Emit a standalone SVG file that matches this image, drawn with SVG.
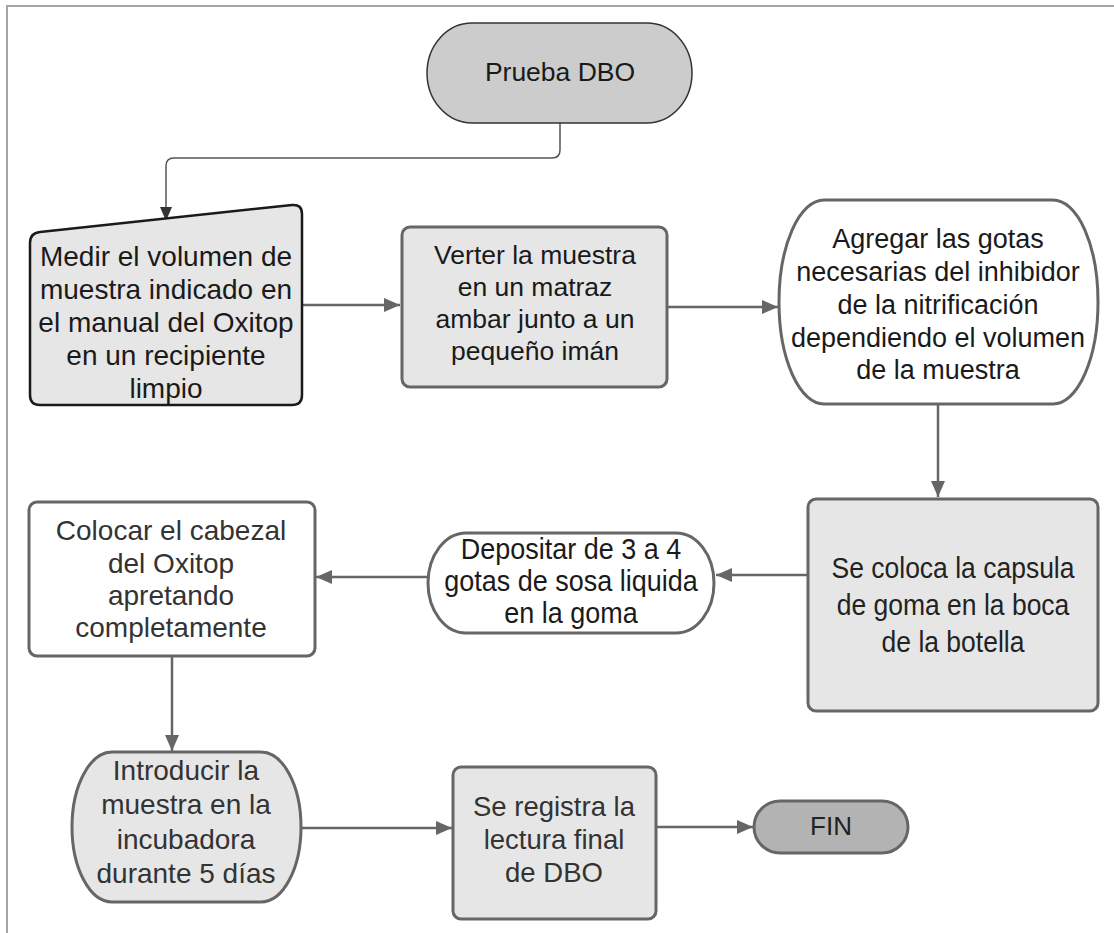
<svg xmlns="http://www.w3.org/2000/svg" width="1114" height="933" viewBox="0 0 1114 933">
<style>
text{font-family:"Liberation Sans",Arial,sans-serif;text-anchor:middle;fill:#1a1a1a}
.g{fill:#e6e6e6;stroke:#666;stroke-width:3}
.w{fill:#fff;stroke:#666;stroke-width:3}
.c{fill:none;stroke:#666;stroke-width:2.5}
</style>
<defs>
<marker id="ah" markerUnits="userSpaceOnUse" markerWidth="16" markerHeight="14" refX="16" refY="7" orient="auto"><path d="M0,0 L16,7 L0,14 z" fill="#666"/></marker>
<marker id="ah2" markerUnits="userSpaceOnUse" markerWidth="14" markerHeight="12" refX="14" refY="6" orient="auto"><path d="M0,0 L14,6 L0,12 z" fill="#333"/></marker>
</defs>
<rect width="1114" height="933" fill="#fff"/>
<path d="M7,933 L7,6 L1114,6" fill="none" stroke="#a6a6a6" stroke-width="2"/>
<g id="connectors">
<path d="M560,123 L560,150 Q560,158 552,158 L174,158 Q166,158 166,166 L166,221" fill="none" stroke="#555" stroke-width="1.5" marker-end="url(#ah2)"/>
<path class="c" d="M302,305 L400,305" marker-end="url(#ah)"/>
<path class="c" d="M667,307 L778,307" marker-end="url(#ah)"/>
<path class="c" d="M938,404 L938,497" marker-end="url(#ah)"/>
<path class="c" d="M808,575 L716,575" marker-end="url(#ah)"/>
<path class="c" d="M428,577 L316,577" marker-end="url(#ah)"/>
<path class="c" d="M172,656 L172,751" marker-end="url(#ah)"/>
<path class="c" d="M301,828 L452,828" marker-end="url(#ah)"/>
<path class="c" d="M656,827 L753,827" marker-end="url(#ah)"/>
</g>
<g id="start">
<rect x="427" y="23" width="265" height="100" rx="45" ry="50" fill="#cccccc" stroke="#333" stroke-width="1.5"/>
<text x="560" y="81" style="font-size:26.5px">Prueba DBO</text>
</g>
<g id="n1">
<path d="M30,395 L30,243 Q30,233 40,232 L292,205 Q302,204 302,214 L302,395 Q302,405 292,405 L40,405 Q30,405 30,395 Z" fill="#e6e6e6" stroke="#1a1a1a" stroke-width="2.5"/>
<text style="font-size:28px"><tspan x="166" y="266">Medir el volumen de</tspan><tspan x="166" y="299">muestra indicado en</tspan><tspan x="166" y="332">el manual del Oxitop</tspan><tspan x="166" y="365">en un recipiente</tspan><tspan x="166" y="398">limpio</tspan></text>
</g>
<g id="n2">
<rect class="g" x="402" y="227" width="265" height="160" rx="8"/>
<text style="font-size:26.5px"><tspan x="535" y="264">Verter la muestra</tspan><tspan x="535" y="296">en un matraz</tspan><tspan x="535" y="328">ambar junto a un</tspan><tspan x="535" y="360">pequeño imán</tspan></text>
</g>
<g id="n3">
<rect class="w" x="779" y="200" width="319" height="204" rx="45" ry="102"/>
<text style="font-size:27px"><tspan x="938" y="248">Agregar las gotas</tspan><tspan x="938" y="281">necesarias del inhibidor</tspan><tspan x="938" y="314">de la nitrificación</tspan><tspan x="938" y="347">dependiendo el volumen</tspan><tspan x="938" y="379">de la muestra</tspan></text>
</g>
<g id="n4">
<rect class="g" x="808" y="499" width="290" height="212" rx="8"/>
<text style="font-size:26.5px;fill:#222" transform="matrix(1 0 0 1.12 953 578)">Se coloca la capsula</text>
<text style="font-size:26.5px;fill:#222" transform="matrix(1 0 0 1.12 953 615)">de goma en la boca</text>
<text style="font-size:26.5px;fill:#222" transform="matrix(1 0 0 1.12 953 652)">de la botella</text>
</g>
<g id="n5">
<rect class="w" x="428" y="533" width="286" height="100" rx="38" ry="50"/>
<text style="font-size:27px" transform="matrix(1 0 0 1.12 571 559)">Depositar de 3 a 4</text>
<text style="font-size:27px" transform="matrix(1 0 0 1.12 571 591)">gotas de sosa liquida</text>
<text style="font-size:27px" transform="matrix(1 0 0 1.12 571 623)">en la goma</text>
</g>
<g id="n6">
<rect class="w" x="29" y="502" width="286" height="154" rx="8"/>
<text style="font-size:28px;fill:#333"><tspan x="171" y="540">Colocar el cabezal</tspan><tspan x="171" y="573">del Oxitop</tspan><tspan x="171" y="605">apretando</tspan><tspan x="171" y="637">completamente</tspan></text>
</g>
<g id="n7">
<rect class="g" x="72" y="752" width="229" height="150" rx="40" ry="75"/>
<text style="font-size:28px;fill:#333"><tspan x="186" y="780">Introducir la</tspan><tspan x="186" y="814">muestra en la</tspan><tspan x="186" y="849">incubadora</tspan><tspan x="186" y="883">durante 5 días</tspan></text>
</g>
<g id="n8">
<rect class="g" x="453" y="767" width="203" height="152" rx="8"/>
<text style="font-size:27.5px;fill:#333"><tspan x="554" y="816">Se registra la</tspan><tspan x="554" y="849">lectura final</tspan><tspan x="554" y="882">de DBO</tspan></text>
</g>
<g id="fin">
<rect x="754" y="801" width="154" height="52" rx="26" fill="#b3b3b3" stroke="#666" stroke-width="3"/>
<text x="831" y="835" style="font-size:26px;fill:#222">FIN</text>
</g>
</svg>
